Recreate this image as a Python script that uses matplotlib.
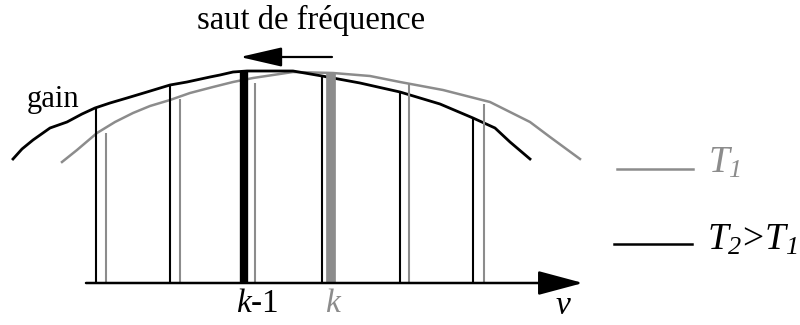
import matplotlib.pyplot as plt

plt.rcParams["font.family"] = ["Liberation Serif", "DejaVu Serif"]
plt.rcParams["mathtext.fontset"] = "custom"
plt.rcParams["mathtext.rm"] = "Liberation Serif"
plt.rcParams["mathtext.it"] = "Liberation Serif:italic"
# italic digits for the subscripts (mathtext draws digits upright in \mathit)
plt.rcParams["mathtext.sf"] = "Liberation Serif:italic"

GRAY = "#8c8c8c"

# gain curves (schematic units, y grows downward)
gain_t2_x = [13, 22, 33, 50, 67, 82, 95, 110, 127, 147, 170, 187, 210, 220, 233, 247,
             293, 322, 360, 400, 440, 473, 495, 510, 530]
gain_t2_y = [159, 149, 140, 128, 122, 114, 108, 103, 98, 92, 85, 82, 77, 75, 72, 71,
             71, 76, 83, 92, 104, 118, 128, 142, 159]
gain_t1_x = [62, 77, 97, 115, 133, 150, 170, 190, 213, 233, 253, 273, 293, 333, 370,
             400, 443, 490, 510, 530, 550, 565, 580]
gain_t1_y = [162, 150, 133, 122, 113, 106, 100, 93, 87, 82, 78, 75, 72, 73, 76,
             82, 90, 102, 112, 122, 137, 148, 159]

# cavity modes
modes_t2 = [96, 170, 244, 322, 400, 473]
tops_t2 = [108, 85, 71, 77, 92, 118]
modes_t1 = [106, 180, 255, 331, 409, 484]
tops_t1 = [133, 99, 83, 72, 84, 104]
lasing_t2 = 244
lasing_t1 = 331

axis_y = 283

fig = plt.figure(figsize=(8, 3.25), dpi=100)
ax = fig.add_axes([0, 0, 1, 1])
ax.set_xlim(0, 800)
ax.set_ylim(325, 0)
ax.axis("off")

ax.plot(gain_t1_x, gain_t1_y, color=GRAY, lw=1.8, solid_joinstyle="round")
ax.plot(gain_t2_x, gain_t2_y, color="black", lw=2.0, solid_joinstyle="round")

for x, top in zip(modes_t1, tops_t1):
    lw = 7.0 if x == lasing_t1 else 1.5
    ax.plot([x, x], [axis_y, top], color=GRAY, lw=lw, solid_capstyle="butt")
for x, top in zip(modes_t2, tops_t2):
    lw = 6.0 if x == lasing_t2 else 1.5
    ax.plot([x, x], [axis_y, top], color="black", lw=lw, solid_capstyle="butt")

# frequency axis
ax.annotate("", xy=(583, axis_y), xytext=(86, axis_y),
            arrowprops=dict(arrowstyle="-|>,head_length=2.8,head_width=0.75",
                            color="black", lw=1.8, shrinkA=0, shrinkB=0))

# frequency jump arrow
ax.annotate("", xy=(240, 57), xytext=(332, 57),
            arrowprops=dict(arrowstyle="-|>,head_length=2.6,head_width=0.6",
                            color="black", lw=1.6, shrinkA=0, shrinkB=0))

ax.text(311, 20, "saut de fréquence", fontsize=23.5, ha="center", va="center")
ax.text(27, 99, "gain", fontsize=22, ha="left", va="center")
ax.text(257, 304, "$k$-1", fontsize=24, ha="center", va="center")
ax.text(334, 304, "$k$", fontsize=24, ha="center", va="center", color=GRAY)
ax.text(563, 306, r"$\nu$", fontsize=24, ha="center", va="center")

# legend
ax.plot([617, 693], [169, 169], color=GRAY, lw=1.8)
ax.text(708, 163, r"$T_{\mathsf{1}}$", fontsize=27, ha="left", va="center", color=GRAY)
ax.plot([614, 692], [244, 244], color="black", lw=1.8)
ax.text(707, 240, r"$T_{\mathsf{2}}\!>\!T_{\mathsf{1}}$", fontsize=27, ha="left", va="center")

fig.savefig("out.png", dpi=100)
